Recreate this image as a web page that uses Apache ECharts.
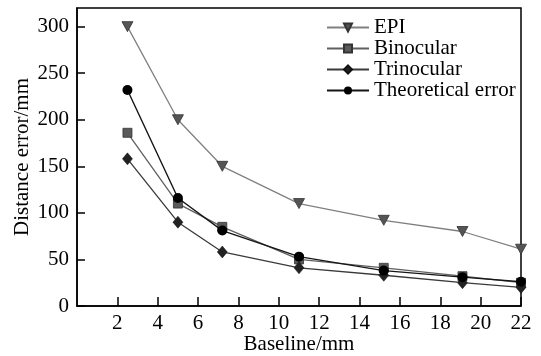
<!DOCTYPE html>
<html>
<head>
<meta charset="utf-8">
<script src="https://cdn.jsdelivr.net/npm/echarts@6/dist/echarts.min.js"></script>
<style>html,body{margin:0;padding:0;background:#fff}#c{width:541px;height:356px}</style>
</head>
<body>
<div id="c"></div>
<script>
var baseline = [2.5, 5, 7.2, 11, 15.2, 19.1, 22];
var epi = [300, 200, 150, 110, 92, 80, 61];
var binocular = [186, 110, 85, 50, 41, 32, 25];
var trinocular = [158, 90, 58, 41, 33, 25, 20];
var theoretical = [232, 116, 81, 53, 38, 31, 26];
var xTicks = [2, 4, 6, 8, 10, 12, 14, 16, 18, 20, 22];
var yTicks = [0, 50, 100, 150, 200, 250, 300];

function pairs(v){ return baseline.map(function(x,i){ return [x, v[i]]; }); }
var font = "'Liberation Serif', 'Times New Roman', serif";
var chart = echarts.init(document.getElementById('c'));
chart.setOption({
  animation: false,
  backgroundColor: '#fff',
  textStyle: {fontFamily: font, color: '#000'},
  grid: {left: 77, top: 8, right: 20, bottom: 50, containLabel: false, outerBoundsMode: 'none',
    show: true, borderColor: '#000', borderWidth: 1.5, backgroundColor: 'transparent'},
  legend: {
    orient: 'vertical', left: 321, top: 12, itemGap: 0, itemWidth: 42, itemHeight: 10,
    textStyle: {fontFamily: font, fontSize: 21, color: '#000', lineHeight: 21},
    data: ['EPI', 'Binocular', 'Trinocular', 'Theoretical error']
  },
  xAxis: {
    type: 'value', min: 0, max: 22, interval: 2,
    name: 'Baseline/mm', nameLocation: 'middle', nameGap: 28, nameMoveOverlap: false,
    nameTextStyle: {fontFamily: font, fontSize: 21, color: '#000'},
    axisLine: {lineStyle: {color: '#000', width: 1.5}},
    axisTick: {inside: true, length: 9, lineStyle: {color: '#000', width: 1.5}, customValues: xTicks},
    axisLabel: {fontFamily: font, fontSize: 21, color: '#000', margin: 7, showMinLabel: false,
      formatter: function(v){ return xTicks.indexOf(v) >= 0 ? String(v) : ''; }},
    splitLine: {show: false}
  },
  yAxis: {
    type: 'value', min: 0, max: 320, interval: 50,
    name: 'Distance error/mm', nameLocation: 'middle', nameGap: 44, nameMoveOverlap: false,
    nameTextStyle: {fontFamily: font, fontSize: 21, color: '#000'},
    axisLine: {lineStyle: {color: '#000', width: 1.5}},
    axisTick: {inside: true, length: 8, lineStyle: {color: '#000', width: 1.5}, customValues: yTicks},
    axisLabel: {fontFamily: font, fontSize: 21, color: '#000', margin: 8, showMaxLabel: false,
      formatter: function(v){ return yTicks.indexOf(v) >= 0 ? String(v) : ''; }},
    splitLine: {show: false}
  },
  series: [
    {name: 'EPI', type: 'line', data: pairs(epi), symbol: 'path://M0,0 L10,0 L5,9 Z', symbolSize: [11, 10],
     lineStyle: {color: '#808080', width: 1.3}, itemStyle: {color: '#555', borderColor: '#333', borderWidth: 0.8}, z: 2},
    {name: 'Binocular', type: 'line', data: pairs(binocular), symbol: 'rect', symbolSize: 9,
     lineStyle: {color: '#606060', width: 1.3}, itemStyle: {color: '#5a5a5a', borderColor: '#333', borderWidth: 0.8}, z: 3},
    {name: 'Trinocular', type: 'line', data: pairs(trinocular), symbol: 'diamond', symbolSize: [10, 12],
     lineStyle: {color: '#3a3a3a', width: 1.3}, itemStyle: {color: '#222', borderColor: '#111', borderWidth: 0.5}, z: 4},
    {name: 'Theoretical error', type: 'line', data: pairs(theoretical), symbol: 'circle', symbolSize: 10,
     lineStyle: {color: '#151515', width: 1.4}, itemStyle: {color: '#000'}, z: 5}
  ]
});
</script>
</body>
</html>
